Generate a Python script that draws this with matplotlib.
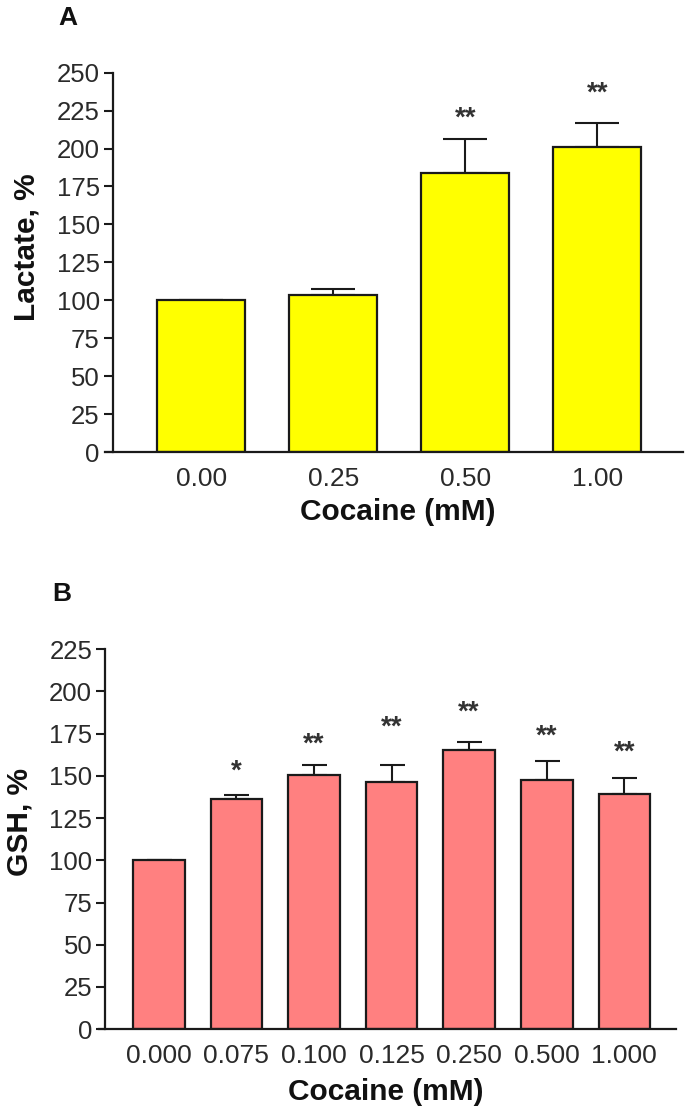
import numpy as np
import matplotlib
matplotlib.use("Agg")
import matplotlib.pyplot as plt

plt.rcParams['font.family'] = ['Liberation Sans', 'DejaVu Sans']

# --- panel A data ---
lac_labels = ["0.00", "0.25", "0.50", "1.00"]
lac_mean = [100.0, 103.7, 183.7, 201.0]
lac_err = [0.0, 3.9, 22.4, 16.0]
lac_stars = ["", "", "**", "**"]
lac_star_y = [0, 0, 220, 236.5]

# --- panel B data ---
gsh_labels = ["0.000", "0.075", "0.100", "0.125", "0.250", "0.500", "1.000"]
gsh_mean = [100.0, 136.2, 150.8, 146.2, 165.5, 147.5, 139.5]
gsh_err = [0.0, 2.3, 5.7, 10.3, 4.4, 11.3, 9.0]
gsh_stars = ["", "*", "**", "**", "**", "**", "**"]
gsh_star_y = [0, 152.5, 168.4, 178.3, 187.3, 173.0, 163.6]

W, H = 685, 1112
fig = plt.figure(figsize=(W / 100, H / 100), dpi=100)

def px_rect(l, r, t, b):
    return [l / W, 1 - b / H, (r - l) / W, (b - t) / H]

def style(ax, inward_px):
    for s in ["top", "right"]:
        ax.spines[s].set_visible(False)
    for s in ["left", "bottom"]:
        ax.spines[s].set_linewidth(1.6)
        ax.spines[s].set_color("#1a1a1a")
    ax.spines["left"].set_position(("outward", -inward_px * 0.72))
    ax.tick_params(axis="y", direction="out", length=6.5, width=1.5,
                   colors="#1a1a1a", labelcolor="#2a2a2a", labelsize=18.5, pad=3)
    ax.tick_params(axis="x", length=0, labelcolor="#2a2a2a", labelsize=19, pad=11)

# panel A
axA = fig.add_axes(px_rect(105.4, 683, 72.7, 452))
xa = np.arange(len(lac_labels))
axA.bar(xa, lac_mean, width=0.667, color="#FFFF00", edgecolor="#1a1a1a",
        linewidth=1.6, zorder=2)
axA.errorbar(xa, lac_mean, yerr=[np.zeros(len(lac_err)), lac_err], fmt="none",
             ecolor="#1a1a1a", elinewidth=1.5, capsize=16, capthick=1.5, zorder=1)
for x, s, y in zip(xa, lac_stars, lac_star_y):
    if s:
        axA.text(x, y, s, ha="center", va="center", fontsize=20,
                 fontweight="bold", color="#333333")
axA.set_xlim(-0.726, 3.649)
axA.set_ylim(0, 250)
axA.set_yticks(np.arange(0, 251, 25))
axA.set_xticks(xa)
axA.set_xticklabels(lac_labels)
style(axA, 7.5)

# panel B
axB = fig.add_axes(px_rect(98.8, 676, 649.2, 1029.2))
xb = np.arange(len(gsh_labels))
axB.bar(xb, gsh_mean, width=0.665, color="#FF8080", edgecolor="#1a1a1a",
        linewidth=1.6, zorder=2)
axB.errorbar(xb, gsh_mean, yerr=[np.zeros(len(gsh_err)), gsh_err], fmt="none",
             ecolor="#1a1a1a", elinewidth=1.5, capsize=9, capthick=1.5, zorder=1)
for x, s, y in zip(xb, gsh_stars, gsh_star_y):
    if s:
        axB.text(x, y, s, ha="center", va="center", fontsize=20,
                 fontweight="bold", color="#333333")
axB.set_xlim(-0.773, 6.666)
axB.set_ylim(0, 225)
axB.set_yticks(np.arange(0, 226, 25))
axB.set_xticks(xb)
axB.set_xticklabels(gsh_labels)
style(axB, 6.6)

# labels
def ftext(x, y, s, **kw):
    fig.text(x / W, 1 - y / H, s, ha="center", va="center",
             fontweight="bold", color="#111111", **kw)

ftext(68, 18, "A", fontsize=19)
ftext(62, 594, "B", fontsize=19)
ftext(27, 247, "Lactate, %", fontsize=21.5, rotation=90)
ftext(20, 822, "GSH, %", fontsize=21.5, rotation=90)
ftext(398, 512, "Cocaine (mM)", fontsize=21.5)
ftext(386, 1092, "Cocaine (mM)", fontsize=21.5)

fig.savefig("out.png", dpi=100)
